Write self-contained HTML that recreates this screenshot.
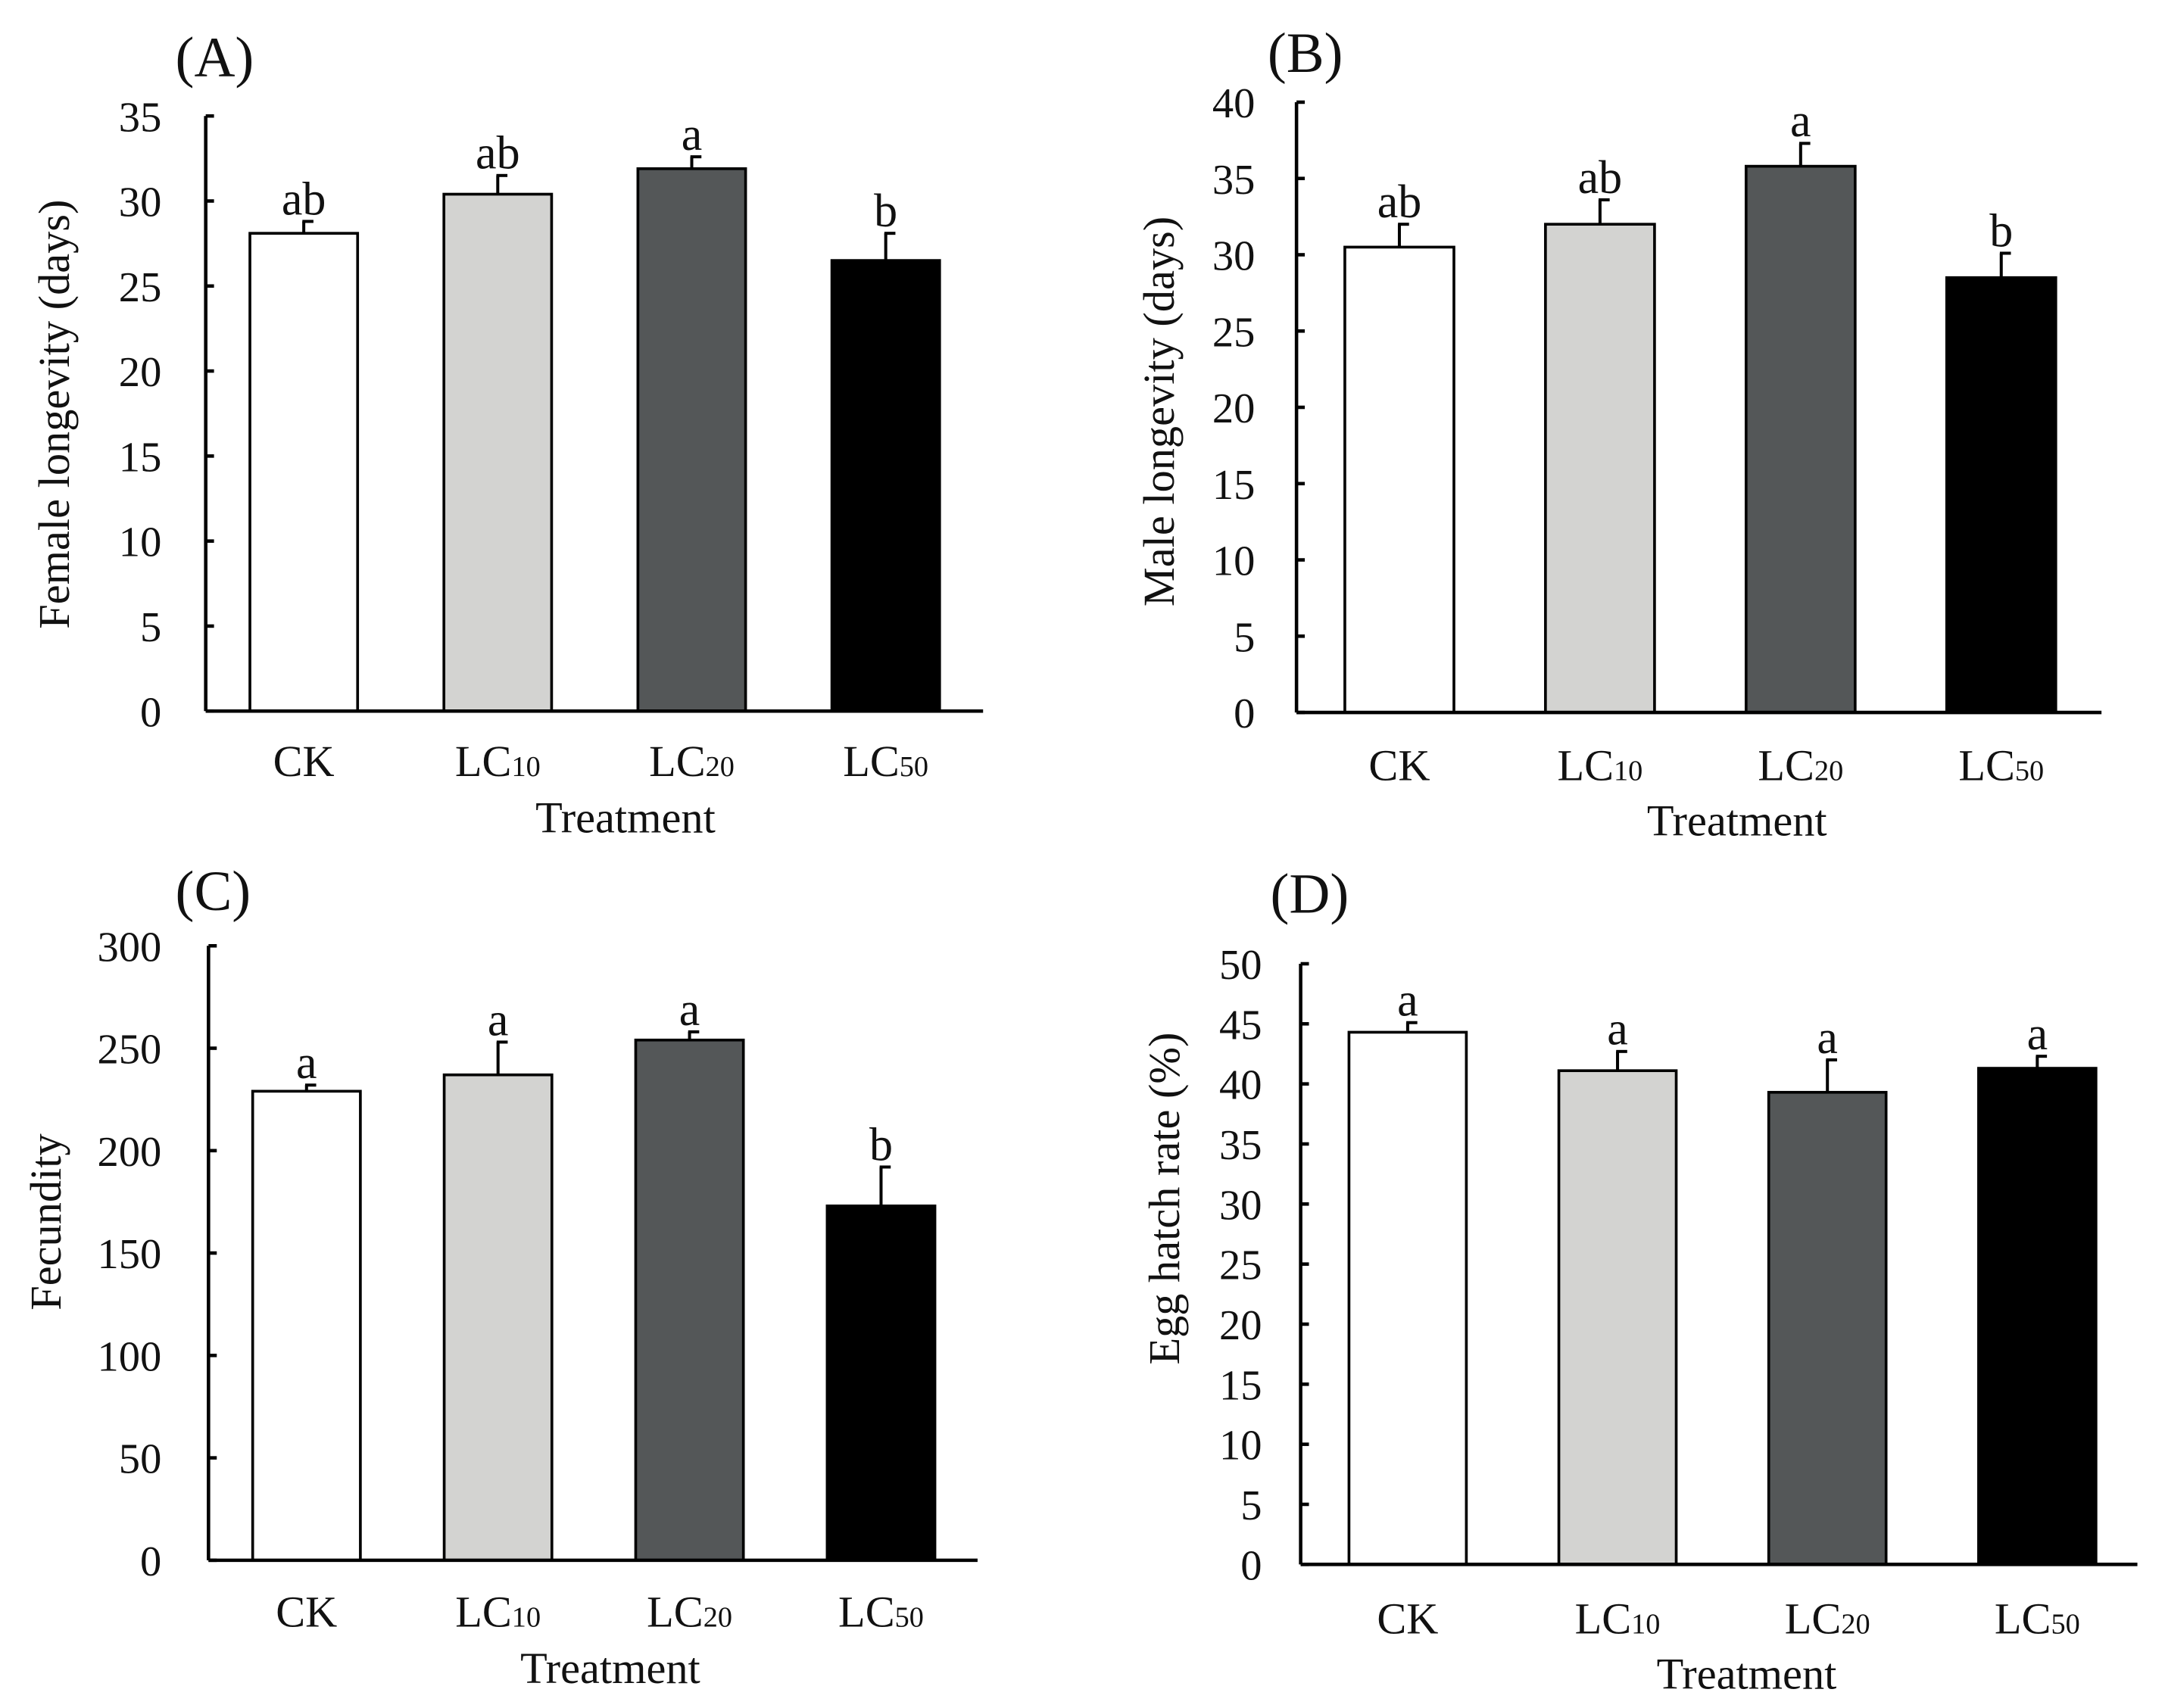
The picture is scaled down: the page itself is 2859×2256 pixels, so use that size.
<!DOCTYPE html>
<html><head><meta charset="utf-8"><style>
html,body{margin:0;padding:0;background:#fff;}
svg{display:block;}
text{font-family:"Liberation Serif",serif;fill:#111;}
</style></head><body>
<svg id="fig" width="2859" height="2256" viewBox="0 0 1568 1237" preserveAspectRatio="none" xmlns="http://www.w3.org/2000/svg"></svg>
<script>
const categories = ["CK","LC10","LC20","LC50"];
const fills = ["#ffffff","#d3d3d1","#545758","#000000"];
const femaleValues = [28.1,30.4,31.9,26.5];
const femaleErrors = [0.7,1.1,0.7,1.6];
const femaleLetters = ["ab","ab","a","b"];
const maleValues = [30.5,32.0,35.8,28.5];
const maleErrors = [1.5,1.6,1.5,1.6];
const maleLetters = ["ab","ab","a","b"];
const fecundityValues = [229,237,254,173];
const fecundityErrors = [3,16,4,19];
const fecundityLetters = ["a","a","a","b"];
const hatchValues = [44.3,41.1,39.3,41.3];
const hatchErrors = [0.8,1.6,2.7,1.0];
const hatchLetters = ["a","a","a","a"];
const femaleTicks = [0,5,10,15,20,25,30,35];
const maleTicks = [0,5,10,15,20,25,30,35,40];
const fecundityTicks = [0,50,100,150,200,250,300];
const hatchTicks = [0,5,10,15,20,25,30,35,40,45,50];

const NS="http://www.w3.org/2000/svg";
const svg=document.getElementById('fig');
function mk(tag,attrs,parent){const e=document.createElementNS(NS,tag);for(const k in attrs)e.setAttribute(k,attrs[k]);(parent||svg).appendChild(e);return e;}

const panels=[
 {id:"a",label:"(A)",lx:127,ly:55,title:"Female longevity (days)",tx:50,ty:300,ax:149,top:84,y0:515,xe:712,x0:181,step:140.5,bw:78,tickR:117,catY:562,trY:603,trX:453,vals:femaleValues,errs:femaleErrors,lets:femaleLetters,ticks:femaleTicks},
 {id:"b",label:"(B)",lx:918,ly:52,title:"Male longevity (days)",tx:850,ty:298,ax:939,top:74,y0:516,xe:1522,x0:974,step:145.3,bw:79,tickR:909,catY:565,trY:605,trX:1258,vals:maleValues,errs:maleErrors,lets:maleLetters,ticks:maleTicks},
 {id:"c",label:"(C)",lx:127,ly:659,title:"Fecundity",tx:44,ty:885,ax:151,top:685,y0:1130,xe:708,x0:183,step:138.7,bw:78,tickR:117,catY:1178,trY:1219,trX:442,vals:fecundityValues,errs:fecundityErrors,lets:fecundityLetters,ticks:fecundityTicks},
 {id:"d",label:"(D)",lx:920,ly:661,title:"Egg hatch rate (%)",tx:854,ty:868,ax:942,top:698,y0:1133,xe:1548,x0:977,step:152,bw:85,tickR:914,catY:1183,trY:1223,trX:1265,vals:hatchValues,errs:hatchErrors,lets:hatchLetters,ticks:hatchTicks}
];

panels.forEach(p=>{
 const g=mk('g',{});
 
 
 const maxT=p.ticks[p.ticks.length-1];
 const y=v=>p.y0-(v/maxT)*(p.y0-p.top);
 const lab=mk('text',{x:p.lx,y:p.ly,'font-size':41},g);lab.textContent=p.label;
 
 
 const t=mk('text',{x:p.tx,y:p.ty,'font-size':32,'text-anchor':'middle',transform:`rotate(-90 ${p.tx} ${p.ty})`},g);t.textContent=p.title;
 
 
 p.vals.forEach((v,i)=>{
  const x=p.x0+i*p.step, cx=x+p.bw/2;
  const eTop=y(v+p.errs[i]);
  const el=mk('line',{x1:cx,y1:y(v),x2:cx,y2:eTop,stroke:'#000','stroke-width':2.2},g);
  
  
  mk('line',{x1:cx-1,y1:eTop,x2:cx+7,y2:eTop,stroke:'#000','stroke-width':2.2},g);
  const r=mk('rect',{x:x,y:y(v),width:p.bw,height:p.y0-y(v),fill:fills[i],stroke:'#000','stroke-width':2},g);
  
  
  const lt=mk('text',{x:cx,y:eTop-5,'font-size':34,'text-anchor':'middle'},g);lt.textContent=p.lets[i];
  
  
  const ct=mk('text',{x:cx,y:p.catY,'font-size':32,'text-anchor':'middle'},g);
  
  
  const c=categories[i];
  if(c==='CK'){ct.textContent='CK';}
  else{const a=mk('tspan',{},ct);a.textContent='LC';const b=mk('tspan',{'font-size':21},ct);b.textContent=c.slice(2);}
 });
 const ya=mk('line',{x1:p.ax,y1:p.top,x2:p.ax,y2:p.y0,stroke:'#000','stroke-width':2.5},g);
 
 
 const xa=mk('line',{x1:p.ax,y1:p.y0,x2:p.xe,y2:p.y0,stroke:'#000','stroke-width':2.5},g);
 
 
 p.ticks.forEach(tv=>{
  mk('line',{x1:p.ax,y1:y(tv),x2:p.ax+6,y2:y(tv),stroke:'#000','stroke-width':2.5},g);
  const tt=mk('text',{x:p.tickR,y:y(tv)+11,'font-size':31,'text-anchor':'end'},g);tt.textContent=tv;
  
  
 });
 const tr=mk('text',{x:p.trX,y:p.trY,'font-size':32,'text-anchor':'middle'},g);tr.textContent='Treatment';
 
 
});
</script>
</body></html>
